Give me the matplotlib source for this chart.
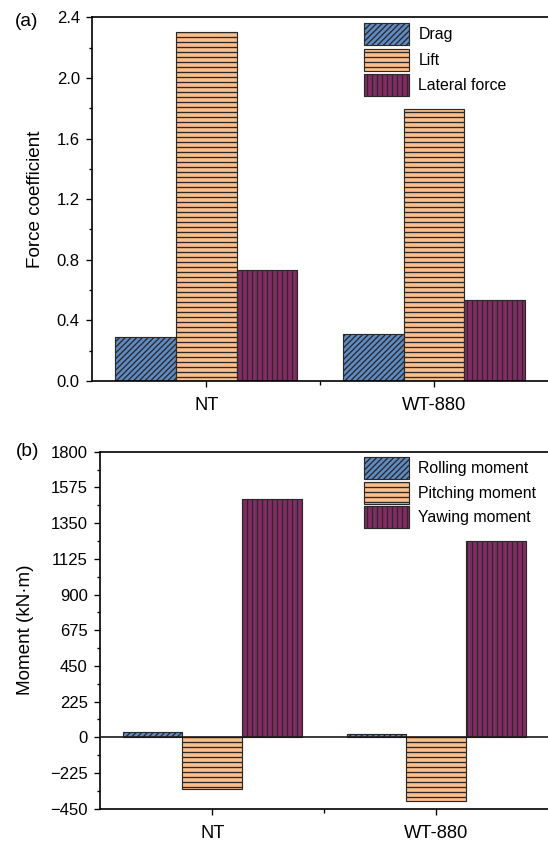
import matplotlib
matplotlib.use("Agg")
from matplotlib import pyplot as plt
from matplotlib.ticker import MultipleLocator, FixedLocator
import numpy as np

# wind loads on the train, two cases
cases = ["NT", "WT-880"]

force_names = ["Drag", "Lift", "Lateral force"]
drag = [0.292, 0.308]
lift = [2.305, 1.795]
lateral = [0.730, 0.532]

moment_names = ["Rolling moment", "Pitching moment", "Yawing moment"]
rolling = [32, 21]
pitching = [-324, -399]
yawing = [1502, 1235]

colors = ["#5f8bc4", "#fdbf8b", "#842a64"]
hatches = ["///////", "----", "||||"]

plt.rcParams["font.family"] = ["Liberation Sans", "DejaVu Sans"]
plt.rcParams["hatch.linewidth"] = 0.8

DPI = 120
fig = plt.figure(figsize=(548 / DPI, 842 / DPI), dpi=DPI)

ax1 = fig.add_axes([0.1684, 0.5475, 0.8316, 0.4320])
ax2 = fig.add_axes([0.1830, 0.0395, 0.8170, 0.4240])

x = np.arange(len(cases))
w = 0.8 / 3


def bars(ax, series, names):
    for i, (vals, name) in enumerate(zip(series, names)):
        ax.bar(x + (i - 1) * w, vals, w, color=colors[i], hatch=hatches[i],
               edgecolor="#2a2a2a", linewidth=0.7, label=name)
    ax.set_xlim(-0.5, 1.5)
    ax.xaxis.set_major_locator(FixedLocator(x))
    ax.xaxis.set_minor_locator(FixedLocator([0.5]))
    ax.set_xticklabels(cases, fontsize=11)
    ax.spines["right"].set_visible(False)
    for s in ["left", "top", "bottom"]:
        ax.spines[s].set_linewidth(1.0)
    ax.tick_params(axis="y", which="major", direction="out", length=3.5,
                   width=0.8, labelsize=10, pad=4)
    ax.tick_params(axis="y", which="minor", direction="out", length=2, width=0.8)
    ax.tick_params(axis="x", which="major", direction="out", length=3.5,
                   width=0.8, pad=6)
    ax.tick_params(axis="x", which="minor", direction="out", length=2.5, width=0.8)


bars(ax1, [drag, lift, lateral], force_names)
ax1.set_ylim(0, 2.4)
ax1.yaxis.set_major_locator(MultipleLocator(0.4))
ax1.yaxis.set_minor_locator(MultipleLocator(0.2))
ax1.yaxis.set_major_formatter(plt.FormatStrFormatter("%.1f"))

bars(ax2, [rolling, pitching, yawing], moment_names)
ax2.set_ylim(-450, 1800)
ax2.yaxis.set_major_locator(MultipleLocator(225))
ax2.yaxis.set_minor_locator(MultipleLocator(112.5))
ax2.axhline(0, color="#1a1a1a", linewidth=1.0, zorder=3)

leg_kw = dict(loc="upper left", frameon=False, fontsize=9.5, borderpad=0,
              borderaxespad=0, handlelength=2.87, handleheight=1.74,
              handletextpad=0.6)
ax1.legend(bbox_to_anchor=(363.5 / 548, 1 - 23.3 / 842),
           bbox_transform=fig.transFigure, labelspacing=0.23, **leg_kw)
ax2.legend(bbox_to_anchor=(363.5 / 548, 1 - 457.3 / 842),
           bbox_transform=fig.transFigure, labelspacing=0.17, **leg_kw)

fig.text(35.8 / 548, 1 - 199 / 842, "Force coefficient", rotation=90,
         ha="center", va="center", fontsize=11.3)
fig.text(25.3 / 548, 1 - 630 / 842, "Moment (kN·m)", rotation=90,
         ha="center", va="center", fontsize=11.3)
fig.text(26.6 / 548, 1 - 21.7 / 842, "(a)", ha="center", va="center",
         fontsize=11.5)
fig.text(27.4 / 548, 1 - 451.7 / 842, "(b)", ha="center", va="center",
         fontsize=11.5)

fig.savefig("out.png", dpi=DPI)
